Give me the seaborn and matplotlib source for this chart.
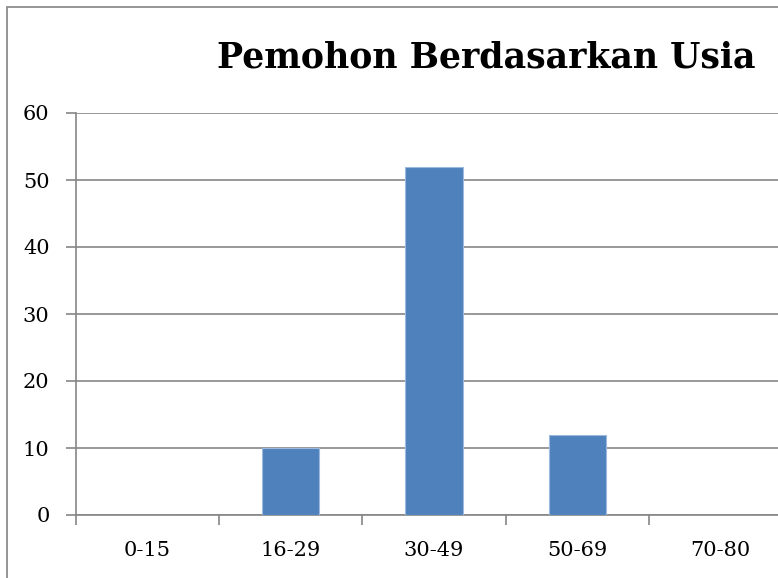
import matplotlib
matplotlib.use("Agg")
import matplotlib.pyplot as plt
import seaborn as sns
import pandas as pd
from matplotlib.patches import Rectangle

# data
age_groups = ["0-15", "16-29", "30-49", "50-69", "70-80"]
applicants = [0, 10, 52, 12, 0]
y_ticks = [0, 10, 20, 30, 40, 50, 60]

df = pd.DataFrame({"usia": age_groups, "jumlah": applicants})

sns.set_style("white")
plt.rcParams["font.family"] = ["DejaVu Serif"]
plt.rcParams["text.color"] = "black"
plt.rcParams["xtick.color"] = "black"
plt.rcParams["ytick.color"] = "black"

W, H = 778, 578
fig = plt.figure(figsize=(W / 100, H / 100), dpi=100)
ax = fig.add_axes([76 / W, (H - 515) / H, 716 / W, 402 / H])

grid_col = "#868686"
sns.barplot(data=df, x="usia", y="jumlah", color="#4F81BD", width=0.4,
            saturation=1, ax=ax, zorder=3, edgecolor="#9DB9DE", linewidth=0.8)

ax.set_xlim(-0.5, len(age_groups) - 0.5)
ax.set_ylim(0, 60)
ax.set_yticks(y_ticks)
ax.yaxis.grid(True, color=grid_col, linewidth=1.2, zorder=0)
ax.set_axisbelow(True)
for s in ["top", "right"]:
    ax.spines[s].set_visible(False)
ax.spines["left"].set_color(grid_col)
ax.spines["bottom"].set_color(grid_col)
ax.spines["left"].set_linewidth(1.2)
ax.spines["bottom"].set_linewidth(1.2)

# category boundary ticks on x
ax.set_xticks([i - 0.5 for i in range(len(age_groups) + 1)], minor=False)
ax.set_xticklabels([])
ax.set_xticks(range(len(age_groups)), minor=True)
ax.set_xticklabels(age_groups, minor=True)
ax.tick_params(axis="x", which="major", bottom=True, length=7, width=1.2,
               color=grid_col, direction="out")
ax.tick_params(axis="x", which="minor", bottom=True, length=0, pad=19, labelsize=15)
ax.tick_params(axis="y", left=True, length=7, width=1.2, color=grid_col,
               direction="out", pad=12, labelsize=15)
ax.set_xlabel("")
ax.set_ylabel("")

fig.text(486 / W, 1 - 57 / H, "Pemohon Berdasarkan Usia", ha="center", va="center",
         fontsize=25, fontweight="bold")

# outer chart frame (cropped at right/bottom)
fig.patches.append(Rectangle((7 / W, -0.1), 1.2, 1 - 7 / H + 0.1, transform=fig.transFigure,
                             fill=False, edgecolor="#8C8C8C", linewidth=1.3))

fig.savefig("out.png", dpi=100)
